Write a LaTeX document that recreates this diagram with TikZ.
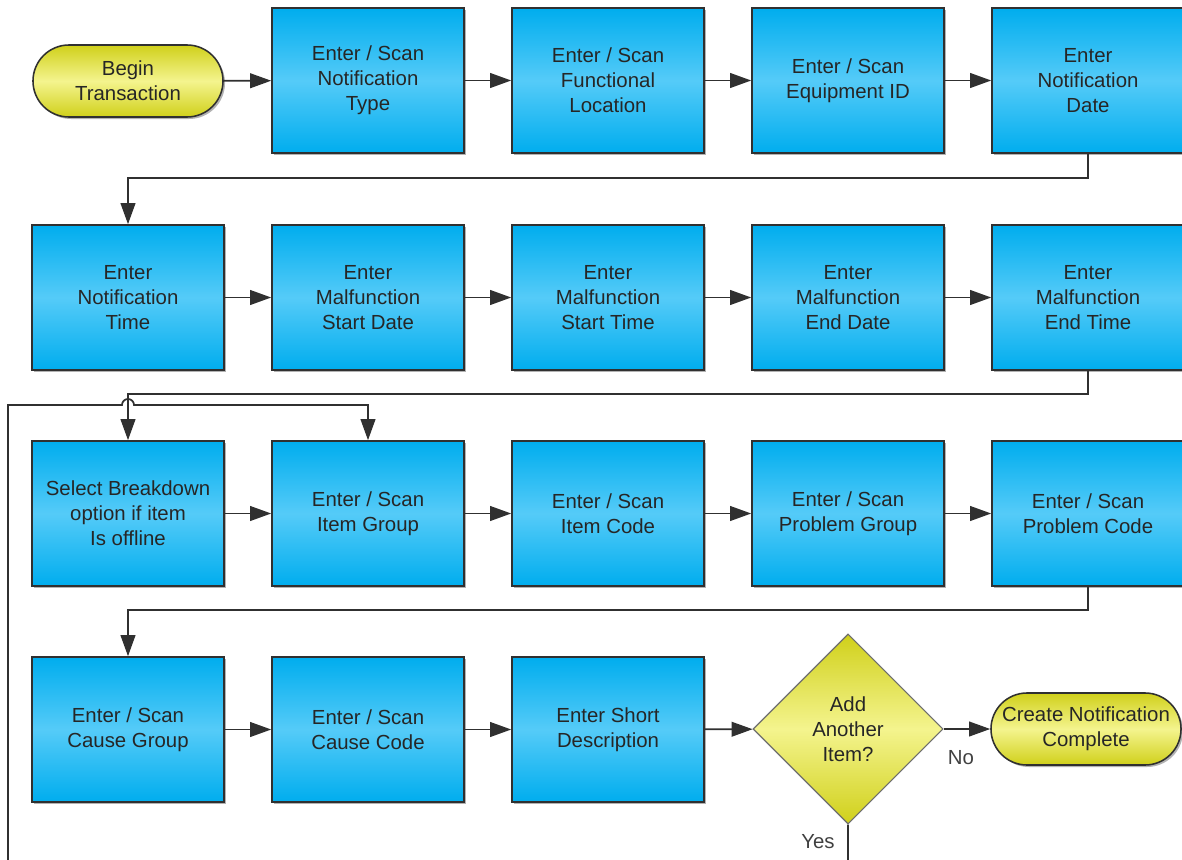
\documentclass[tikz,border=0pt]{standalone}
\usepackage{fontspec}
\setmainfont{Liberation Sans}
\usepackage{tikz}
\usetikzlibrary{arrows.meta}
\usetikzlibrary{calc}
\usetikzlibrary{shapes.geometric}
\usetikzlibrary{shadows}
\usetikzlibrary{positioning}

\definecolor{boxblue}{HTML}{00ADEE}
\definecolor{boxlight}{HTML}{55CBF8}
\definecolor{termyel}{HTML}{D0D01A}
\definecolor{termlight}{HTML}{F4F48E}
\definecolor{edgegray}{HTML}{303030}

\begin{document}
\begin{tikzpicture}[x=0.025cm, y=-0.025cm,
	boxtext/.style={align=center, text=black!85, font=\fontsize{14.5}{17.7}\selectfont},
	shade/.style={drop shadow={shadow xshift=0.05cm, shadow yshift=-0.05cm, opacity=0.3, fill=black}},
	task/.style={boxtext, shade, rectangle, draw=edgegray, line width=1.1pt,
		top color=boxblue, bottom color=boxblue, middle color=boxlight,
		minimum width=4.8cm, minimum height=3.625cm},
	term/.style={boxtext, shade, rectangle, rounded corners=0.9cm, draw=edgegray, line width=1.1pt,
		top color=termyel, bottom color=termyel, middle color=termlight,
		minimum width=4.75cm, minimum height=1.8cm, inner sep=0pt},
	decide/.style={boxtext, diamond, aspect=1, draw=edgegray!70, line width=0.8pt,
		top color=termyel, bottom color=termyel, middle color=termlight,
		minimum width=4.75cm, minimum height=4.75cm, inner sep=0pt}]
	\useasboundingbox (0,0) rectangle (1182,860);
	\clip (0,0) rectangle (1182,860);

	% row 1
	\node[term] (begin) at (128,81) {Begin\\Transaction};
	\node[task] (ntype) at (368,80.5) {Enter / Scan\\Notification\\Type};
	\node[task] (floc) at (608,80.5) {Enter / Scan\\Functional\\Location};
	\node[task] (equip) at (848,80.5) {Enter / Scan\\Equipment ID};
	\node[task] (ndate) at (1088,80.5) {Enter\\Notification\\Date};

	% row 2
	\node[task] (ntime) at (128,297.5) {Enter\\Notification\\Time};
	\node[task] (mstartd) at (368,297.5) {Enter\\Malfunction\\Start Date};
	\node[task] (mstartt) at (608,297.5) {Enter\\Malfunction\\Start Time};
	\node[task] (mendd) at (848,297.5) {Enter\\Malfunction\\End Date};
	\node[task] (mendt) at (1088,297.5) {Enter\\Malfunction\\End Time};

	% row 3
	\node[task] (brk) at (128,513.5) {Select Breakdown\\option if item\\Is offline};
	\node[task] (igrp) at (368,513.5) {Enter / Scan\\Item Group};
	\node[task] (icode) at (608,513.5) {Enter / Scan\\Item Code};
	\node[task] (pgrp) at (848,513.5) {Enter / Scan\\Problem Group};
	\node[task] (pcode) at (1088,513.5) {Enter / Scan\\Problem Code};

	% row 4
	\node[task] (cgrp) at (128,729.5) {Enter / Scan\\Cause Group};
	\node[task] (ccode) at (368,729.5) {Enter / Scan\\Cause Code};
	\node[task] (sdesc) at (608,729.5) {Enter Short\\Description};
	\node[decide] (add) at (848,729) {Add\\Another\\Item?};
	\node[term] (done) at (1086,729) {Create Notification\\Complete};

	\node[boxtext, text=black!75] (nolbl) at (961,758) {No};
	\node[boxtext, text=black!75] (yeslbl) at (818,842) {Yes};

	\coordinate (loopa) at (8,880);
	\coordinate (loopb) at (8,405);
	\coordinate (hop) at (128,405);

	\begin{scope}[>={Triangle[length=15pt, width=10.5pt]},
	              every path/.style={draw=edgegray, line width=1.2pt}]
		\draw[->] (begin) -- (ntype);
		\draw[->] (ntype) -- (floc);
		\draw[->] (floc) -- (equip);
		\draw[->] (equip) -- (ndate);
		\draw[->] (ndate.south) -- ++(0,24) -| (ntime.north);

		\draw[->] (ntime) -- (mstartd);
		\draw[->] (mstartd) -- (mstartt);
		\draw[->] (mstartt) -- (mendd);
		\draw[->] (mendd) -- (mendt);
		\draw[->] (mendt.south) -- ++(0,23) -| (brk.north);

		\draw[->] (brk) -- (igrp);
		\draw[->] (igrp) -- (icode);
		\draw[->] (icode) -- (pgrp);
		\draw[->] (pgrp) -- (pcode);
		\draw[->] (pcode.south) -- ++(0,23) -| (cgrp.north);

		\draw[->] (cgrp) -- (ccode);
		\draw[->] (ccode) -- (sdesc);
		\draw[->] (sdesc) -- (add);
		\draw[->] (add) -- (done);

		% yes loop back to item group
		\draw[->] (add.south) |- (loopa) -- (loopb)
			-- ($(hop)+(-6,0)$) arc (180:360:6) -| (igrp.north);
	\end{scope}
\end{tikzpicture}
\end{document}
